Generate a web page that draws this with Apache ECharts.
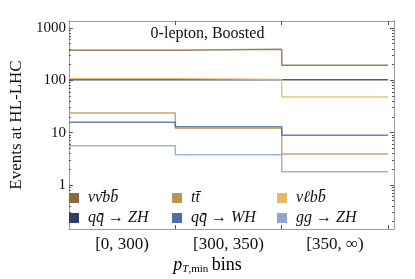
<!DOCTYPE html>
<html><head><meta charset="utf-8">
<script src="https://cdn.jsdelivr.net/npm/echarts@6/dist/echarts.min.js"></script>
<style>html,body{margin:0;padding:0;background:#fff}#c{width:415px;height:279px}</style>
</head><body><div id="c"></div>
<script>
const bins = ['[0, 300)', '[300, 350)', '[350, \u221E)'];
const names = ['\u03BD\u03BD\u0304bb\u0304', 'qq\u0304 \u2192 ZH', 'tt\u0304', 'qq\u0304 \u2192 WH', '\u03BD\u2113bb\u0304', 'gg \u2192 ZH'];
const nunubb = [376, 393, 195];
const qqZH = [102, 102, 102];
const ttbar = [23.7, 12.1, 3.9];
const qqWH = [15.8, 13.0, 8.9];
const nulbb = [108, 104, 48];
const ggZH = [5.6, 3.76, 1.78];
const yTicks = [1, 10, 100, 1000];

const colors = ['#8B6A3B', '#2D3F5E', '#BE954F', '#4E6DA4', '#EAB863', '#8EA6CF'];
const values = [nunubb, qqZH, ttbar, qqWH, nulbb, ggZH];

const minorVals = [];
[0.1, 1, 10, 100, 1000].forEach(d => { for (let k = 2; k <= 9; k++) { const v = d * k; if (v > 0.14 && v < 1360) minorVals.push(+v.toPrecision(3)); } });

const serif = 'Liberation Serif';
const frameColor = '#9a9a9a';
const yMin = 0.144, yMax = 1360;

function yAx(pos, major, showLabel) {
  return {
    type: 'log', logBase: 10, min: yMin, max: yMax, position: pos,
    axisLine: { show: true, lineStyle: { color: frameColor, width: 1 } },
    axisTick: { show: true, inside: true, length: major ? 4 : 2, customValues: major ? yTicks : minorVals, lineStyle: { color: '#555' } },
    axisLabel: { show: showLabel, customValues: yTicks, formatter: v => String(Math.round(v)), fontFamily: serif, fontSize: 15, color: '#111', margin: 3 },
    splitLine: { show: false },
    name: showLabel ? 'Events at HL-LHC' : '', nameLocation: 'middle', nameGap: 37,
    nameTextStyle: { fontFamily: serif, fontSize: 17, color: '#111' }
  };
}

function xAx(pos, showLabel) {
  return {
    type: 'value', min: 0, max: 3.055, position: pos,
    axisLine: { show: true, onZero: false, lineStyle: { color: frameColor, width: 1 } },
    axisTick: { show: true, inside: true, length: 4, customValues: [1, 2, 3], lineStyle: { color: '#555' } },
    axisLabel: { show: showLabel, customValues: [0.5, 1.5, 2.5], formatter: v => bins[Math.round(v - 0.5)], fontFamily: serif, fontSize: 17, color: '#111', margin: 7 },
    splitLine: { show: false }
  };
}

const series = names.map((n, i) => ({
  name: n, type: 'line', step: 'end', showSymbol: false, symbol: 'none',
  xAxisIndex: 0, yAxisIndex: 0,
  color: colors[i],
  lineStyle: { width: 1.5, color: colors[i], opacity: 0.85 },
  data: values[i].map((v, j) => [j, v]).concat([[values[i].length, values[i][values[i].length - 1]]])
}));

function legend(idx, left) {
  return {
    data: [names[idx], names[idx + 1]], orient: 'vertical', left: left, top: 190, padding: 0,
    icon: 'rect', itemWidth: 10, itemHeight: 10, itemGap: 4,
    textStyle: { fontFamily: serif, fontStyle: 'italic', fontSize: 16, color: '#111', padding: [0, 0, 0, 4] }
  };
}

const chart = echarts.init(document.getElementById('c'), null, { renderer: 'canvas' });
chart.setOption({
  animation: false,
  backgroundColor: '#fff',
  grid: { left: 58, right: 21, top: 21, bottom: 50, containLabel: false },
  title: { text: '0-lepton, Boosted', left: 'center', top: 26, padding: 0, textStyle: { fontFamily: serif, fontSize: 16, fontWeight: 'normal', color: '#111' } },
  xAxis: [xAx('bottom', true), xAx('top', false)],
  yAxis: [yAx('left', true, true), yAx('left', false, false), yAx('right', true, false), yAx('right', false, false)],
  legend: [legend(0, 69), legend(2, 172), legend(4, 277)],
  graphic: [{
    type: 'text', left: 'center', top: 256,
    style: {
      text: '{p|p}{t|T}{s|,min} {b|bins}',
      rich: {
        p: { fontFamily: serif, fontStyle: 'italic', fontSize: 18, color: '#111' },
        t: { fontFamily: serif, fontStyle: 'italic', fontSize: 11, color: '#111', padding: [9, 0, 0, 0] },
        s: { fontFamily: serif, fontSize: 11, color: '#111', padding: [9, 0, 0, 0] },
        b: { fontFamily: serif, fontSize: 18, color: '#111' }
      }
    }
  }],
  series: series
});
</script></body></html>
